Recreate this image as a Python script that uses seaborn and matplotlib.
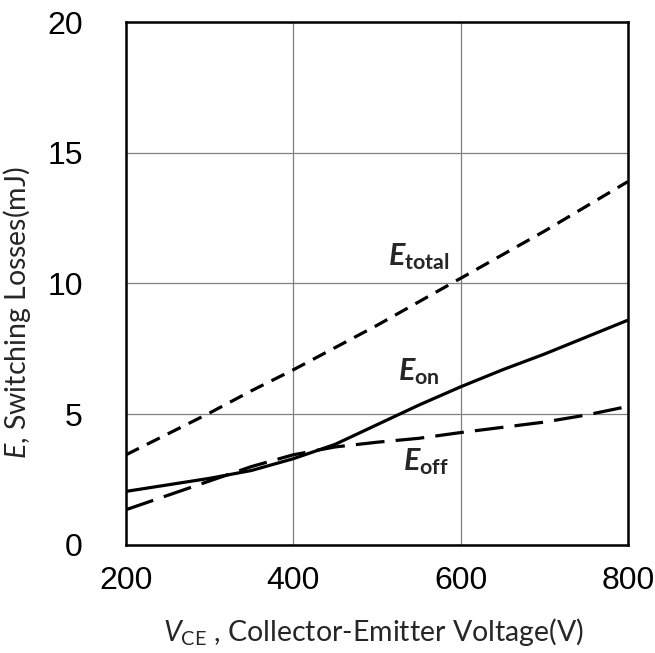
import pandas as pd
import matplotlib
matplotlib.use("Agg")
import matplotlib.pyplot as plt
import seaborn as sns

# values (V, mJ)
vce = [200, 250, 300, 350, 400, 450, 500, 550, 600, 650, 700, 750, 800]
e_total = [3.45, 4.25, 5.05, 5.9, 6.7, 7.55, 8.4, 9.3, 10.2, 11.1, 12.0, 12.95, 13.9]
e_on = [2.05, 2.3, 2.55, 2.85, 3.3, 3.85, 4.6, 5.35, 6.05, 6.7, 7.3, 7.95, 8.6]
e_off = [1.35, 1.9, 2.45, 3.0, 3.45, 3.75, 3.93, 4.08, 4.3, 4.5, 4.7, 4.97, 5.3]

x_ticks = [200, 400, 600, 800]
y_ticks = [0, 5, 10, 15, 20]

df = pd.DataFrame({
    "Vce": vce * 3,
    "E": e_total + e_on + e_off,
    "Curve": ["total"] * len(vce) + ["on"] * len(vce) + ["off"] * len(vce),
})

sns.set_theme(style="white")
plt.rcParams["font.family"] = ["Lato", "DejaVu Sans"]
plt.rcParams["mathtext.fontset"] = "custom"
plt.rcParams["mathtext.rm"] = "Lato"
plt.rcParams["mathtext.it"] = "Lato:italic"
plt.rcParams["mathtext.bf"] = "Lato:bold"
plt.rcParams["mathtext.bfit"] = "Lato:italic:bold"

fig = plt.figure(figsize=(6.55, 6.53), dpi=100)
ax = fig.add_axes([0.1924, 0.1654, 0.7664, 0.8009])

sns.lineplot(data=df, x="Vce", y="E", style="Curve",
             dashes={"total": (4.5, 2.8), "on": "", "off": (9, 3.5)},
             color="black", linewidth=2.3, legend=False, ax=ax)

ax.set_xlim(200, 800)
ax.set_ylim(0, 20)
ax.set_xticks(x_ticks)
ax.set_yticks(y_ticks)
ax.grid(True, color="#808080", linewidth=0.9)
for s in ax.spines.values():
    s.set_color("black")
    s.set_linewidth(1.8)
    s.set_zorder(5)

ax.tick_params(length=0, labelsize=23, colors="black")
ax.tick_params(axis="x", pad=15)
ax.tick_params(axis="y", pad=31)
for lab in ax.get_xticklabels() + ax.get_yticklabels():
    lab.set_family(["Liberation Sans", "DejaVu Sans"])

ax.set_xlabel(r"$\mathit{V}_{\mathrm{CE}}$ , Collector-Emitter Voltage(V)", fontsize=20.5)
ax.set_ylabel(r"$\mathit{E}$, Switching Losses(mJ)", fontsize=20.5)
ax.xaxis.set_label_coords(0.493, -0.135)
ax.yaxis.set_label_coords(-0.185, 0.445)

ax.text(513, 10.7, r"$\mathbfit{E}_{\mathbf{total}}$", fontsize=22)
ax.text(525, 6.3, r"$\mathbfit{E}_{\mathbf{on}}$", fontsize=22)
ax.text(531, 2.87, r"$\mathbfit{E}_{\mathbf{off}}$", fontsize=22)

plt.savefig("out.png", dpi=100)
plt.close()
